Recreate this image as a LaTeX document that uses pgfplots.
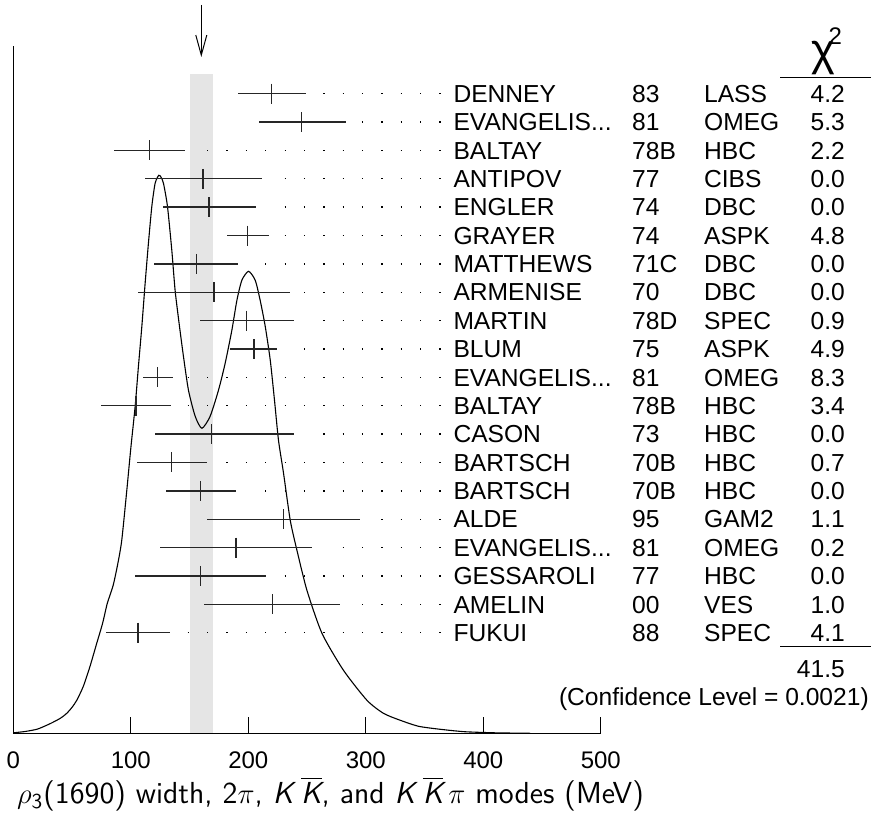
\documentclass[border=0pt]{standalone}
\usepackage{amsmath}
\usepackage{fontspec}
\setmainfont{Liberation Sans}
\usepackage{pgfplots}
\pgfplotsset{compat=1.18}
\usepackage{pgfplotstable}
\usetikzlibrary{arrows.meta}

\newcommand\tabfont{\fontsize{12.3}{14}\selectfont}
\newcommand\datarow[5]{%
  \node[anchor=base west,inner sep=0pt,font=\tabfont] at (axis cs:374.3,{100.6+(20-#1)*28.37-8.7}) {#2};
  \node[anchor=base west,inner sep=0pt,font=\tabfont] at (axis cs:526.4,{100.6+(20-#1)*28.37-8.7}) {#3};
  \node[anchor=base west,inner sep=0pt,font=\tabfont] at (axis cs:587.6,{100.6+(20-#1)*28.37-8.7}) {#4};
  \node[anchor=base east,inner sep=0pt,font=\tabfont] at (axis cs:708.0,{100.6+(20-#1)*28.37-8.7}) {#5};
}
\newcommand\sK{\textsl{K}}
\newcommand\sKbar{$\overline{\hbox{\sffamily\slshape K}}$}

\pgfplotstableread{
x y em ep
220   639.63 29 29
245.4 611.26 36.4 37.5
116   582.89 30.4 29.8
161.4 554.52 49.6 50.6
166.5 526.15 39.5 40.4
199.5 497.78 17.3 18.1
156   469.41 36 35.5
170.8 441.04 64.8 64.7
198.6 412.67 39.7 40
204.8 384.30 20.1 19.9
122.8 355.93 12.8 12.8
104.4 327.56 29.5 30.1
168.6 299.19 47.6 70
134.8 270.82 29.8 29.8
159.4 242.45 29.7 30.1
230   214.08 65.2 64.8
189.5 185.71 64.7 65
159.4 157.34 55.6 56
220.4 128.97 58.4 57.6
106.2 100.60 27.3 27
}\meas

\pgfplotstableread{
x h
0 0.5
10 1.8
20 4
25.6 6.6
32 10
40 15
45.5 20
50 26
54 33
59.6 47
65.3 67
71 90
76 110
80 130
85 148
89 170
92.3 193
96.6 243
100 285
103.7 327
106.5 367
109.4 407
112.2 450
115 490
117.9 527
120.7 550
123.8 558
125.8 556
127.8 550
131.2 527
134.9 483
137.7 443
141.1 410
144.8 377
149.1 343
154.8 317
160.5 305
167.5 317
174.6 343
180.3 370
186 403
190.3 433
194.5 453
200.2 462
205.9 453
210.1 433
214.4 407
218.7 373
222.3 333
225.7 293
230 260
235.7 213
241.4 183
249.9 143
262.7 100
281 63
301 33
315 20
329.4 13
345 7
363.5 4
384 1.6
410 0.5
440 0
}\curve

\begin{document}
\begin{tikzpicture}
\begin{axis}[
  scale only axis,
  width=293.75pt, height=343.65pt,
  xmin=0, xmax=500, ymin=0, ymax=687.3,
  axis x line=bottom, axis y line=left,
  axis line style={-, line width=0.65pt},
  xtick={0,100,200,300,400,500},
  ytick=\empty,
  tick align=inside,
  major tick length=8pt,
  tick style={line width=0.65pt, black},
  /pgf/number format/assume math mode=true,
  xticklabel style={font=\fontsize{12}{14}\selectfont, yshift=-5.5pt},
  clip=false,
  unbounded coords=jump,
]
% band
\addplot[fill=gray!20, draw=none] coordinates {(150,0) (150,659.3) (170,659.3) (170,0)} -- cycle;
% ideogram curve
\addplot[black, line width=0.55pt, smooth, tension=0.4] table[x=x, y=h] {\curve};
% measurements
\addplot[only marks, mark=|, mark size=5pt, color=black!85,
  mark options={line width=0.65pt},
  error bars/.cd, x dir=both, x explicit, error mark=none,
  error bar style={line width=0.65pt, black!85}]
  table[x=x, y=y, x error minus=em, x error plus=ep] {\meas};
% dotted leaders
\addplot[black, line width=0.65pt, dash pattern=on 0.65pt off 9.03pt] coordinates {
(263.79,639.63) (363.67,639.63) (nan,nan)
(296.75,611.26) (363.67,611.26) (nan,nan)
(164.91,582.89) (363.67,582.89) (nan,nan)
(230.83,554.52) (363.67,554.52) (nan,nan)
(230.83,526.15) (363.67,526.15) (nan,nan)
(230.83,497.78) (363.67,497.78) (nan,nan)
(214.35,469.41) (363.67,469.41) (nan,nan)
(247.31,441.04) (363.67,441.04) (nan,nan)
(263.79,412.67) (363.67,412.67) (nan,nan)
(247.31,384.30) (363.67,384.30) (nan,nan)
(148.43,355.93) (363.67,355.93) (nan,nan)
(148.43,327.56) (363.67,327.56) (nan,nan)
(263.79,299.19) (363.67,299.19) (nan,nan)
(181.39,270.82) (363.67,270.82) (nan,nan)
(214.35,242.45) (363.67,242.45) (nan,nan)
(313.23,214.08) (363.67,214.08) (nan,nan)
(280.27,185.71) (363.67,185.71) (nan,nan)
(230.83,157.34) (363.67,157.34) (nan,nan)
(296.75,128.97) (363.67,128.97) (nan,nan)
(148.43,100.60) (363.67,100.60)
};
% arrow
\draw[line width=0.5pt, -{Straight Barb[length=10pt,width=5.5pt]}] (axis cs:160,728.3) -- (axis cs:160,676.3);
% table
\datarow{1}{DENNEY}{83}{LASS}{4.2}
\datarow{2}{EVANGELIS...}{81}{OMEG}{5.3}
\datarow{3}{BALTAY}{78B}{HBC}{2.2}
\datarow{4}{ANTIPOV}{77}{CIBS}{0.0}
\datarow{5}{ENGLER}{74}{DBC}{0.0}
\datarow{6}{GRAYER}{74}{ASPK}{4.8}
\datarow{7}{MATTHEWS}{71C}{DBC}{0.0}
\datarow{8}{ARMENISE}{70}{DBC}{0.0}
\datarow{9}{MARTIN}{78D}{SPEC}{0.9}
\datarow{10}{BLUM}{75}{ASPK}{4.9}
\datarow{11}{EVANGELIS...}{81}{OMEG}{8.3}
\datarow{12}{BALTAY}{78B}{HBC}{3.4}
\datarow{13}{CASON}{73}{HBC}{0.0}
\datarow{14}{BARTSCH}{70B}{HBC}{0.7}
\datarow{15}{BARTSCH}{70B}{HBC}{0.0}
\datarow{16}{ALDE}{95}{GAM2}{1.1}
\datarow{17}{EVANGELIS...}{81}{OMEG}{0.2}
\datarow{18}{GESSAROLI}{77}{HBC}{0.0}
\datarow{19}{AMELIN}{00}{VES}{1.0}
\datarow{20}{FUKUI}{88}{SPEC}{4.1}
\node[anchor=base,inner sep=0pt,font=\fontsize{22.5}{24}\selectfont] at (axis cs:689.2,667.8) {χ};
\node[anchor=base west,inner sep=0pt,font=\fontsize{12}{14}\selectfont] at (axis cs:693.5,688.3) {2};
\draw[line width=0.6pt] (axis cs:652.7,656) -- (axis cs:730.1,656);
\draw[line width=0.6pt] (axis cs:652.7,86.6) -- (axis cs:730.1,86.6);
\node[anchor=base east,inner sep=0pt,font=\tabfont] at (axis cs:708.0,55.6) {41.5};
\node[anchor=base east,inner sep=0pt,font=\tabfont] at (axis cs:728.4,27.6) {(Confidence Level = 0.0021)};
\node[anchor=base west,inner sep=0pt,font=\sffamily\fontsize{15.2}{17}\selectfont] at (axis cs:2.9,-70.2)
  {$\rho_{\textsf{3}}$(1690) width, 2$\pi$, \sK\,\sKbar, and \sK\,\sKbar\,$\pi$ modes (MeV)};
\end{axis}
\pgfresetboundingbox
\path[use as bounding box] (-6.65pt,-43.35pt) rectangle (428.85pt,366.65pt);
\end{tikzpicture}
\end{document}
